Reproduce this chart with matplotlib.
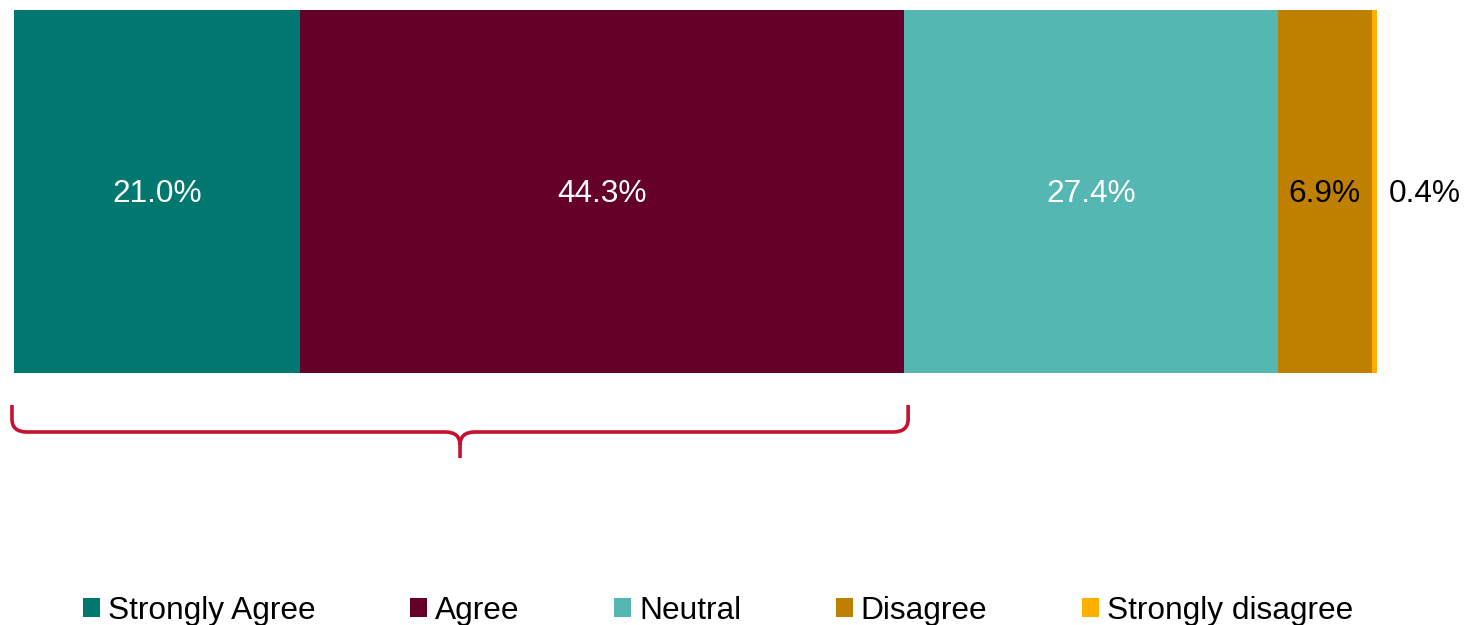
import matplotlib
matplotlib.use("Agg")
import matplotlib.pyplot as plt
from matplotlib.path import Path
from matplotlib.patches import PathPatch, Patch

categories = ["Strongly Agree", "Agree", "Neutral", "Disagree", "Strongly disagree"]
values = [21.0, 44.3, 27.4, 6.9, 0.4]
colors = ["#00786F", "#650028", "#55B7B2", "#BF8000", "#FFAF00"]
label_colors = ["white", "white", "white", "black", "black"]

plt.rcParams['font.family'] = ['Liberation Sans', 'DejaVu Sans']
FS = 22.8

W, H = 1467, 625
fig = plt.figure(figsize=(W / 100, H / 100), dpi=100)
# axes: x spans bar 14..1377 px, y spans 10..470 px (data units = px, inverted)
ax = fig.add_axes([14 / W, 1 - 470 / H, 1363 / W, 460 / H])
ax.set_xlim(0, 100)
ax.set_ylim(460, 0)
ax.axis('off')

left = 0.0
for v, c, lc, cat in zip(values, colors, label_colors, categories):
    ax.barh(181.5, v, left=left, height=363, color=c, label=cat, linewidth=0)
    if v >= 3:
        ax.text(left + v / 2, 184.5, f"{v:.1f}%", ha='center', va='center',
                color=lc, fontsize=FS)
    else:
        ax.text(left + v + 0.85, 184.5, f"{v:.1f}%", ha='left', va='center',
                color=lc, fontsize=FS)
    left += v

# brace under Strongly Agree + Agree
x0 = -0.15
x1 = values[0] + values[1] + 0.3
xm = (x0 + x1) / 2
rx = 15 / 13.63
ry = 13
top, mid, tip = 395, 422, 448
verts = [(x0, top), (x0, mid - ry), (x0, mid), (x0 + rx, mid),
         (xm - rx, mid), (xm, mid), (xm, mid + ry), (xm, tip),
         (xm, mid + ry), (xm, mid), (xm + rx, mid),
         (x1 - rx, mid), (x1, mid), (x1, mid - ry), (x1, top)]
codes = [Path.MOVETO, Path.LINETO, Path.CURVE3, Path.CURVE3,
         Path.LINETO, Path.CURVE3, Path.CURVE3, Path.LINETO,
         Path.MOVETO, Path.CURVE3, Path.CURVE3,
         Path.LINETO, Path.CURVE3, Path.CURVE3, Path.LINETO]
ax.add_patch(PathPatch(Path(verts, codes), fill=False, edgecolor='#C8102E',
                       linewidth=2.6, capstyle='butt', clip_on=False))

handles = [Patch(facecolor=c, edgecolor='none') for c in colors]
fig.legend(handles, categories, loc='center', ncol=5,
           bbox_to_anchor=(718 / W, 1 - 611 / H), frameon=False,
           fontsize=FS, handlelength=0.54, handleheight=0.54,
           handletextpad=0.25, columnspacing=2.98, borderpad=0, borderaxespad=0)

fig.savefig("out.png", dpi=100)
